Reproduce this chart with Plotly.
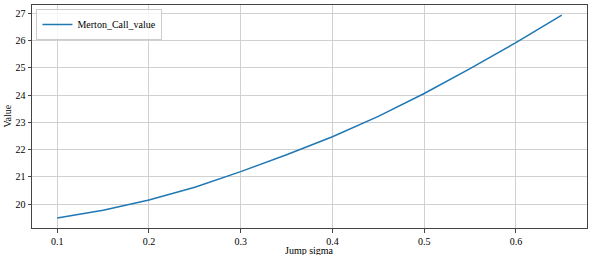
import plotly.graph_objects as go

jump_sigma = [0.10, 0.15, 0.20, 0.25, 0.30, 0.35, 0.40, 0.45, 0.50, 0.55, 0.60, 0.65]
merton_call_value = [19.49, 19.77, 20.15, 20.62, 21.19, 21.81, 22.47, 23.22, 24.06, 24.97, 25.93, 26.94]
x_ticks = [0.1, 0.2, 0.3, 0.4, 0.5, 0.6]
x_tick_labels = ["0.1", "0.2", "0.3", "0.4", "0.5", "0.6"]
y_ticks = [20, 21, 22, 23, 24, 25, 26, 27]

SERIF = "Times New Roman, Liberation Serif, DejaVu Serif, serif"
font = dict(family=SERIF, size=10, color="#000")

fig = go.Figure()
fig.add_trace(go.Scatter(x=jump_sigma, y=merton_call_value, mode="lines",
                         name="Merton_Call_value",
                         line=dict(color="#1f77b4", width=1.5)))

axis_common = dict(showgrid=True, gridcolor="#d0d0d0", gridwidth=1,
                   showline=True, linecolor="#444", linewidth=1, mirror=True,
                   ticks="outside", ticklen=3.5, tickwidth=0.8, tickcolor="#444",
                   zeroline=False, tickfont=font, automargin=False)

plot_w = 590 - 32 - 3
plot_h = 255 - 5 - 27

fig.update_layout(
    width=590, height=255,
    margin=dict(l=32, r=3, t=5, b=27),
    paper_bgcolor="white", plot_bgcolor="white",
    font=font,
    showlegend=True,
    legend=dict(x=0.008, y=0.982, xanchor="left", yanchor="top",
                bgcolor="rgba(255,255,255,0.8)", bordercolor="#ccc", borderwidth=1,
                font=dict(family=SERIF, size=10), itemwidth=30,
                tracegroupgap=0),
    xaxis=dict(range=[0.0725, 0.6775], tickvals=x_ticks, ticktext=x_tick_labels,
               ticklabelstandoff=0, **axis_common),
    yaxis=dict(range=[19.12, 27.31], tickvals=y_ticks, **axis_common),
    annotations=[
        dict(text="Jump sigma", x=0.5, y=(228 - 250) / plot_h, xref="paper", yref="paper",
             yanchor="middle", showarrow=False, font=font),
        dict(text="Value", x=(7 - 32) / plot_w, y=0.5, xref="paper", yref="paper",
             xanchor="center", showarrow=False, font=font, textangle=-90),
    ],
)

fig.write_html("out.html",
               config={"displayModeBar": False},
               post_script="document.body.style.margin='0';document.body.style.overflow='hidden';")
